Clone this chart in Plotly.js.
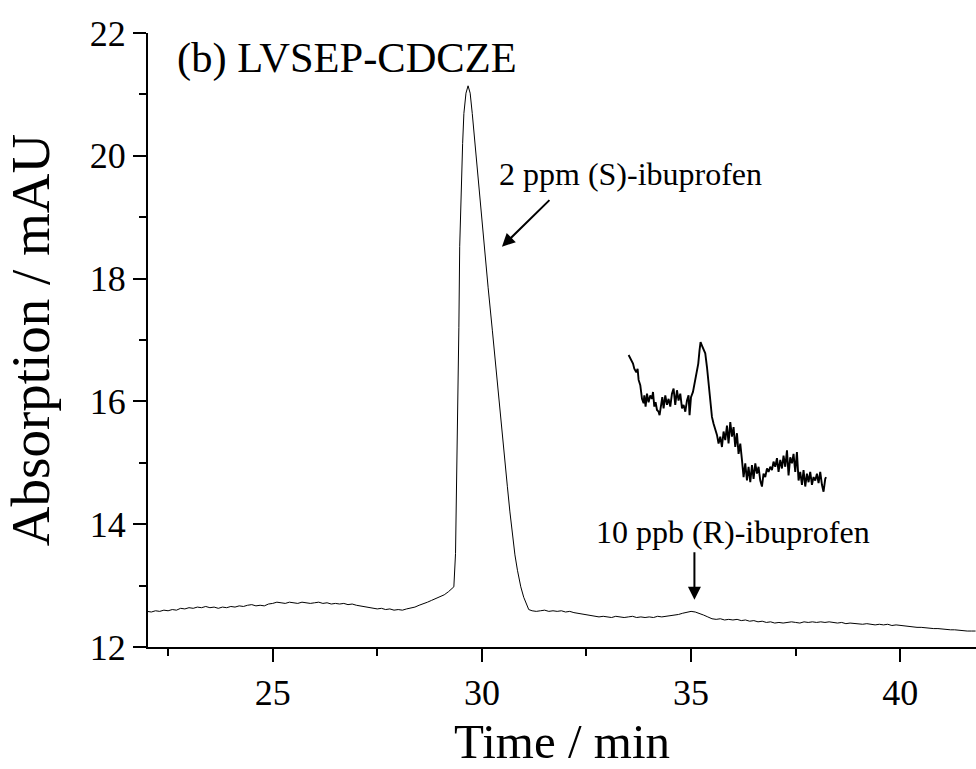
<!DOCTYPE html>
<html>
<head>
<meta charset="utf-8">
<script src="https://cdn.plot.ly/plotly-3.0.1.min.js"></script>
<style>html,body{margin:0;padding:0;background:#fff;}#chart{width:976px;height:769px;}</style>
</head>
<body>
<div id="chart"></div>
<script>
// Main electropherogram: time (min) and absorption (mAU)
const timeMin = [
 22.0,22.1,22.2,22.3,22.4,22.5,22.6,22.7,22.8,22.9,
 23.0,23.1,23.2,23.3,23.4,23.5,23.6,23.7,23.8,23.9,
 24.0,24.1,24.2,24.3,24.4,24.5,24.6,24.7,24.8,24.9,
 25.0,25.1,25.2,25.3,25.4,25.5,25.6,25.7,25.8,25.9,
 26.0,26.1,26.2,26.3,26.4,26.5,26.6,26.7,26.8,26.9,
 27.0,27.1,27.2,27.3,27.4,27.5,27.6,27.7,27.8,27.9,
 28.0,28.1,28.2,28.3,28.4,28.5,28.6,28.7,28.8,28.9,
 29.0,29.1,29.2,29.3,29.33,
 29.37,29.41,29.45,29.47,29.51,29.54,29.57,29.62,29.67,29.72,29.77,29.84,29.91,29.98,
 30.05,30.15,30.25,30.35,30.45,30.53,30.61,30.67,30.73,30.79,30.85,30.93,31.0,31.07,31.12,
 31.2,31.3,31.4,31.5,31.6,31.7,31.8,31.9,
 32.0,32.1,32.2,32.3,32.4,32.5,32.6,32.7,32.8,32.9,
 33.0,33.1,33.2,33.3,33.4,33.5,33.6,33.7,33.8,33.9,
 34.0,34.1,34.2,34.3,34.4,34.5,34.6,34.7,34.8,34.9,
 35.0,35.1,35.2,35.3,35.4,35.5,35.6,35.7,35.8,35.9,
 36.0,36.1,36.2,36.3,36.4,36.5,36.6,36.7,36.8,36.9,
 37.0,37.1,37.2,37.3,37.4,37.5,37.6,37.7,37.8,37.9,
 38.0,38.1,38.2,38.3,38.4,38.5,38.6,38.7,38.8,38.9,
 39.0,39.1,39.2,39.3,39.4,39.5,39.6,39.7,39.8,39.9,
 40.0,40.1,40.2,40.3,40.4,40.5,40.6,40.7,40.8,40.9,
 41.0,41.1,41.2,41.3,41.4,41.5,41.6,41.7,41.8
];
const absorbance = [
 12.58,12.57,12.59,12.58,12.60,12.59,12.61,12.60,12.63,12.62,
 12.64,12.63,12.65,12.64,12.66,12.64,12.65,12.63,12.65,12.64,
 12.66,12.65,12.67,12.66,12.68,12.69,12.67,12.68,12.67,12.70,
 12.71,12.73,12.72,12.71,12.73,12.72,12.71,12.73,12.72,12.71,
 12.72,12.73,12.71,12.72,12.70,12.71,12.70,12.71,12.69,12.70,
 12.68,12.67,12.66,12.64,12.63,12.62,12.63,12.61,12.62,12.60,
 12.61,12.60,12.62,12.63,12.65,12.68,12.70,12.73,12.76,12.79,
 12.82,12.85,12.90,12.96,12.98,
 13.52,15.15,17.20,18.52,19.60,20.20,20.69,21.02,21.14,21.02,20.69,20.15,19.60,19.05,
 18.52,17.85,17.16,16.42,15.69,15.15,14.61,14.20,13.79,13.50,13.25,12.98,12.81,12.68,12.61,
 12.59,12.58,12.59,12.60,12.58,12.59,12.58,12.59,
 12.57,12.58,12.56,12.55,12.53,12.52,12.51,12.50,12.49,12.50,
 12.49,12.48,12.50,12.49,12.48,12.49,12.50,12.48,12.49,12.48,
 12.49,12.48,12.50,12.49,12.50,12.50,12.52,12.53,12.55,12.57,
 12.58,12.57,12.55,12.52,12.49,12.46,12.45,12.46,12.44,12.45,
 12.44,12.45,12.43,12.44,12.42,12.43,12.41,12.42,12.40,12.41,
 12.39,12.40,12.39,12.40,12.41,12.40,12.39,12.41,12.40,12.41,
 12.40,12.41,12.40,12.41,12.40,12.39,12.40,12.38,12.39,12.38,
 12.38,12.37,12.38,12.37,12.36,12.37,12.36,12.37,12.35,12.36,
 12.35,12.34,12.34,12.33,12.32,12.32,12.31,12.31,12.30,12.30,
 12.29,12.28,12.28,12.28,12.27,12.27,12.26,12.26,12.26
];

// Inset: expanded view of the (R)-ibuprofen region (time in min, absorption in mAU)
const insetTime = [
 33.507,33.564,33.612,33.643,33.691,33.722,33.746,33.786,33.827,33.865,
 33.882,33.913,33.946,33.984,34.025,34.066,34.090,34.121,34.152,34.185,
 34.223,34.247,34.281,34.312,34.343,34.384,34.424,34.462,34.503,34.543,
 34.582,34.622,34.663,34.701,34.742,34.783,34.821,34.862,34.902,34.940,
 34.964,34.998,35.045,35.076,35.107,35.141,35.172,35.203,35.227,35.260,
 35.299,35.339,35.380,35.418,35.459,35.499,35.538,35.578,35.619,35.657,
 35.698,35.738,35.777,35.817,35.858,35.896,35.937,35.977,36.016,36.056,
 36.097,36.135,36.176,36.216,36.255,36.295,36.336,36.374,36.415,36.455,
 36.494,36.535,36.575,36.613,36.654,36.694,36.732,36.773,36.814,36.852,
 36.893,36.933,36.971,37.012,37.053,37.091,37.132,37.172,37.210,37.251,
 37.292,37.330,37.370,37.411,37.449,37.490,37.530,37.569,37.609,37.650,
 37.688,37.729,37.769,37.808,37.848,37.889,37.927,37.968,38.008,38.047,
 38.087,38.128,38.166,38.207,38.226
];
const insetAbs = [
 12.554,12.548,12.544,12.538,12.534,12.538,12.525,12.519,12.503,12.498,
 12.507,12.494,12.509,12.499,12.507,12.503,12.511,12.494,12.499,12.490,
 12.488,12.484,12.498,12.505,12.492,12.507,12.496,12.503,12.494,12.509,
 12.515,12.496,12.513,12.501,12.509,12.492,12.496,12.488,12.501,12.507,
 12.484,12.505,12.511,12.519,12.529,12.534,12.544,12.560,12.569,12.565,
 12.560,12.556,12.540,12.521,12.505,12.482,12.474,12.467,12.461,12.451,
 12.459,12.447,12.465,12.455,12.472,12.451,12.476,12.459,12.470,12.447,
 12.463,12.439,12.451,12.432,12.412,12.428,12.408,12.424,12.406,12.426,
 12.410,12.428,12.416,12.424,12.408,12.401,12.416,12.412,12.422,12.418,
 12.424,12.420,12.430,12.424,12.434,12.418,12.432,12.422,12.437,12.424,
 12.443,12.414,12.435,12.428,12.439,12.418,12.441,12.408,12.418,12.403,
 12.420,12.401,12.416,12.406,12.418,12.403,12.412,12.408,12.416,12.405,
 12.418,12.403,12.395,12.410,12.412
];

const xMajorTicks = [25, 30, 35, 40];
const yMajorTicks = [12, 14, 16, 18, 20, 22];

const serif = 'Liberation Serif, Times New Roman, serif';

const traces = [
  {x: timeMin, y: absorbance, type: 'scatter', mode: 'lines',
   line: {color: '#000', width: 1}, xaxis: 'x', yaxis: 'y', hoverinfo: 'skip'},
  {x: insetTime, y: insetAbs, type: 'scatter', mode: 'lines',
   line: {color: '#000', width: 1.9}, xaxis: 'x', yaxis: 'y2', hoverinfo: 'skip'}
];

const layout = {
  width: 976, height: 769,
  margin: {l: 148, r: 0, t: 33, b: 122, pad: 0},
  paper_bgcolor: '#fff', plot_bgcolor: '#fff',
  showlegend: false,
  font: {family: serif, color: '#000'},
  xaxis: {
    range: [22.02, 41.81], tickmode: 'array', tickvals: xMajorTicks,
    ticks: 'outside', ticklen: 13, tickwidth: 2, tickcolor: '#000',
    minor: {dtick: 2.5, tick0: 0, ticks: 'outside', ticklen: 7, tickwidth: 2, tickcolor: '#000'},
    showline: true, linewidth: 2, linecolor: '#000', mirror: false,
    showgrid: false, zeroline: false,
    tickfont: {family: serif, size: 36, color: '#000'},
    title: {text: 'Time / min', font: {family: serif, size: 49, color: '#000'}, standoff: 28}
  },
  yaxis: {
    range: [12, 22], tickmode: 'array', tickvals: yMajorTicks,
    ticks: 'outside', ticklen: 13, tickwidth: 2, tickcolor: '#000',
    minor: {dtick: 1, tick0: 0, ticks: 'outside', ticklen: 7, tickwidth: 2, tickcolor: '#000'},
    showline: true, linewidth: 2, linecolor: '#000', mirror: false,
    showgrid: false, zeroline: false,
    tickfont: {family: serif, size: 36, color: '#000'},
    title: {text: 'Absorption / mAU', font: {family: serif, size: 55, color: '#000'}, standoff: 24}
  },
  yaxis2: {
    overlaying: 'y', range: [12.2143, 12.9286], visible: false, fixedrange: true
  },
  annotations: [
    {x: 22.675, y: 21.59, xref: 'x', yref: 'y', text: '(b) LVSEP-CDCZE', showarrow: false,
     xanchor: 'left', yanchor: 'middle', font: {family: serif, size: 42.5, color: '#000'}},
    {x: 33.56, y: 19.70, xref: 'x', yref: 'y', text: '2 ppm (S)-ibuprofen', showarrow: false,
     xanchor: 'center', yanchor: 'middle', font: {family: serif, size: 32, color: '#000'}},
    {x: 30.48, y: 18.52, xref: 'x', yref: 'y', text: '', showarrow: true, ax: 49, ay: -48,
     arrowhead: 2, arrowsize: 1.3, arrowwidth: 2, arrowcolor: '#000', standoff: 0},
    {x: 36.00, y: 13.87, xref: 'x', yref: 'y', text: '10 ppb (R)-ibuprofen', showarrow: false,
     xanchor: 'center', yanchor: 'middle', font: {family: serif, size: 32, color: '#000'}},
    {x: 35.08, y: 12.77, xref: 'x', yref: 'y', text: '', showarrow: true, ax: 0, ay: -49,
     arrowhead: 2, arrowsize: 1.3, arrowwidth: 2, arrowcolor: '#000', standoff: 0}
  ]
};

Plotly.newPlot('chart', traces, layout, {displayModeBar: false, staticPlot: true});
</script>
</body>
</html>
